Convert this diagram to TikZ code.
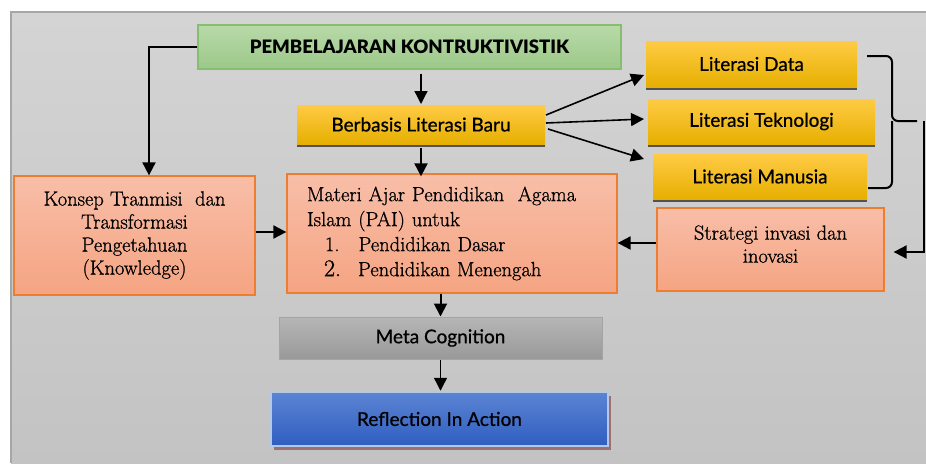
\documentclass[tikz,border=0pt]{standalone}
\usepackage{fontspec}
\setsansfont{Lato}
\newfontfamily\labelfont{Lato}[FakeBold=0.7]
\newfontfamily\titlefont{Lato Black}
\newfontfamily\bodyfont{Latin Modern Roman}[FakeBold=0.9]
\usepackage{xcolor}
\usetikzlibrary{arrows.meta,shadows}

\definecolor{bgtop}{HTML}{D4D4D4}
\definecolor{bgbot}{HTML}{C3C3C3}
\definecolor{bgline}{HTML}{A6A6A6}
\definecolor{greentop}{HTML}{B8DAA9}
\definecolor{greenbot}{HTML}{9CC889}
\definecolor{greenline}{HTML}{84BE6E}
\definecolor{yellowtop}{HTML}{FFCB45}
\definecolor{yellowmid}{HTML}{FFC000}
\definecolor{yellowbot}{HTML}{E6AF00}
\definecolor{salmontop}{HTML}{F8BEA8}
\definecolor{salmonbot}{HTML}{F5A482}
\definecolor{orangeline}{HTML}{ED7D31}
\definecolor{metatop}{HTML}{B6B6B6}
\definecolor{metabot}{HTML}{999999}
\definecolor{bluetop}{HTML}{5C84D4}
\definecolor{bluebot}{HTML}{2F5EBF}
\definecolor{blueline}{HTML}{B4C7E7}
\definecolor{brownshadow}{HTML}{9E6F6F}

\begin{document}
\begin{tikzpicture}[x=1pt,y=-1pt,line width=2pt,
  >={Triangle[length=13pt,width=13pt]},
  greenbox/.style={draw=greenline,line width=1.3pt,top color=greentop,bottom color=greenbot,
    font=\titlefont\fontsize{18.5}{20}\selectfont},
  yellowbox/.style={top color=yellowtop,middle color=yellowmid,bottom color=yellowbot,
    drop shadow={shadow xshift=0pt,shadow yshift=-3pt,fill=black!68,opacity=1},
    font=\labelfont\fontsize{19}{21}\selectfont},
  salmonbox/.style={draw=orangeline,line width=1.3pt,top color=salmontop,bottom color=salmonbot,
    align=center,font=\bodyfont\fontsize{20.5}{23}\selectfont},
  thinarrow/.style={->,line width=1.3pt}]

\useasboundingbox (0,0) rectangle (926,463);
\shade[top color=bgtop,bottom color=bgbot] (11,12) rectangle (926,463);
\draw[bgline,line width=1.5pt] (11,463) -- (11,12) -- (926,12);

% 1
\node[greenbox,minimum width=423pt,minimum height=44pt] (Pembelajaran) at (409.5,47) {PEMBELAJARAN KONTRUKTIVISTIK};

\node[yellowbox,minimum width=248pt,minimum height=39pt] (Berbasis) at (421,124.5) {Berbasis Literasi Baru};

\node[yellowbox,minimum width=211pt,minimum height=46pt] (LiterasiData) at (751.5,64) {Literasi Data};
\node[yellowbox,minimum width=227pt,minimum height=45pt] (LiterasiTeknologi) at (761.5,121.5) {Literasi Teknologi};
\node[yellowbox,minimum width=214pt,minimum height=45pt] (LiterasiManusia) at (760,176.5) {Literasi Manusia};

% 2
\node[salmonbox,minimum width=241pt,minimum height=119pt] (Konsep) at (134.5,235.5) {Konsep Tranmisi\ \ dan\\Transformasi\\Pengetahuan\\(Knowledge)};

\node[salmonbox,text width=300pt,inner xsep=15pt,minimum height=119pt,align=left,
  font=\bodyfont\fontsize{20.5}{25}\selectfont] (Materi) at (452,233.5)
  {\hspace*{5pt}Materi Ajar Pendidikan\ \ Agama\\\hspace*{5pt}Islam (PAI) untuk\\\hspace*{23pt}1.\hspace{19pt}Pendidikan Dasar\\\hspace*{22pt}{\fontsize{24}{25}\selectfont 2.}\hspace{17pt}Pendidikan Menengah};

\node[salmonbox,minimum width=227pt,minimum height=83pt] (Strategi) at (770.5,249.5) {Strategi invasi dan\\inovasi\\[-12pt]\mbox{}};

% 3
\node[draw=metatop!90!black,line width=1pt,top color=metatop,bottom color=metabot,minimum width=323pt,minimum height=42pt,
  font=\labelfont\fontsize{19}{21}\selectfont] (MetaCognition) at (440.5,338) {Meta Cognition};

\node[draw=blueline,line width=2.5pt,top color=bluetop,bottom color=bluebot,
  drop shadow={shadow xshift=3pt,shadow yshift=-4pt,fill=brownshadow,opacity=1},
  minimum width=337pt,minimum height=54pt,font=\labelfont\fontsize{19}{21}\selectfont] (Reflection) at (439.5,419) {Reflection In Action};

% connectors
\draw[->] (Pembelajaran.west) -| ([xshift=14.5pt]Konsep.north);
\draw[thinarrow,shorten <=4pt] (Pembelajaran.south -| Berbasis.north) -- (Berbasis.north);
\draw[->] ([yshift=-3pt]Berbasis.south) -- ([yshift=-3pt]Berbasis.south |- Materi.north);

\draw[->,line width=1.6pt] ([yshift=9.5pt]Berbasis.east) -- ([xshift=-1pt,yshift=-11pt]LiterasiData.west);
\draw[->,line width=1.6pt] ([yshift=1.5pt]Berbasis.east) -- ([xshift=-3pt,yshift=2.5pt]LiterasiTeknologi.west);
\draw[->,line width=1.6pt] ([xshift=2pt,yshift=-4.5pt]Berbasis.east) -- ([xshift=-8pt,yshift=17.5pt]LiterasiManusia.west);

% brace
\coordinate (BraceTop) at ([xshift=9pt,yshift=8pt]LiterasiData.east);
\coordinate (BraceBottom) at ([yshift=-11.5pt]LiterasiManusia.east);
\coordinate (BraceTip) at (917,121);
\coordinate (BraceOut) at (924,121);
\draw[rounded corners=6pt] (BraceTop) -- (892,56) -- (892,121) -- (BraceTip);
\draw[rounded corners=6pt] (BraceBottom) -- (892,188) -- (892,121);
\draw[->] (BraceOut) |- ([xshift=9pt,yshift=-2.5pt]Strategi.east);

\draw[->] ([yshift=6.5pt]Strategi.west) -- ([yshift=6.5pt]Strategi.west -| Materi.east);
\draw[->] ([yshift=3.5pt]Konsep.east) -- ([yshift=3.5pt]Konsep.east -| Materi.west);

\draw[->] (Materi.south -| MetaCognition.north) -- (MetaCognition.north);
\draw[thinarrow] (MetaCognition.south) -- (MetaCognition.south |- Reflection.north);

\end{tikzpicture}
\end{document}
